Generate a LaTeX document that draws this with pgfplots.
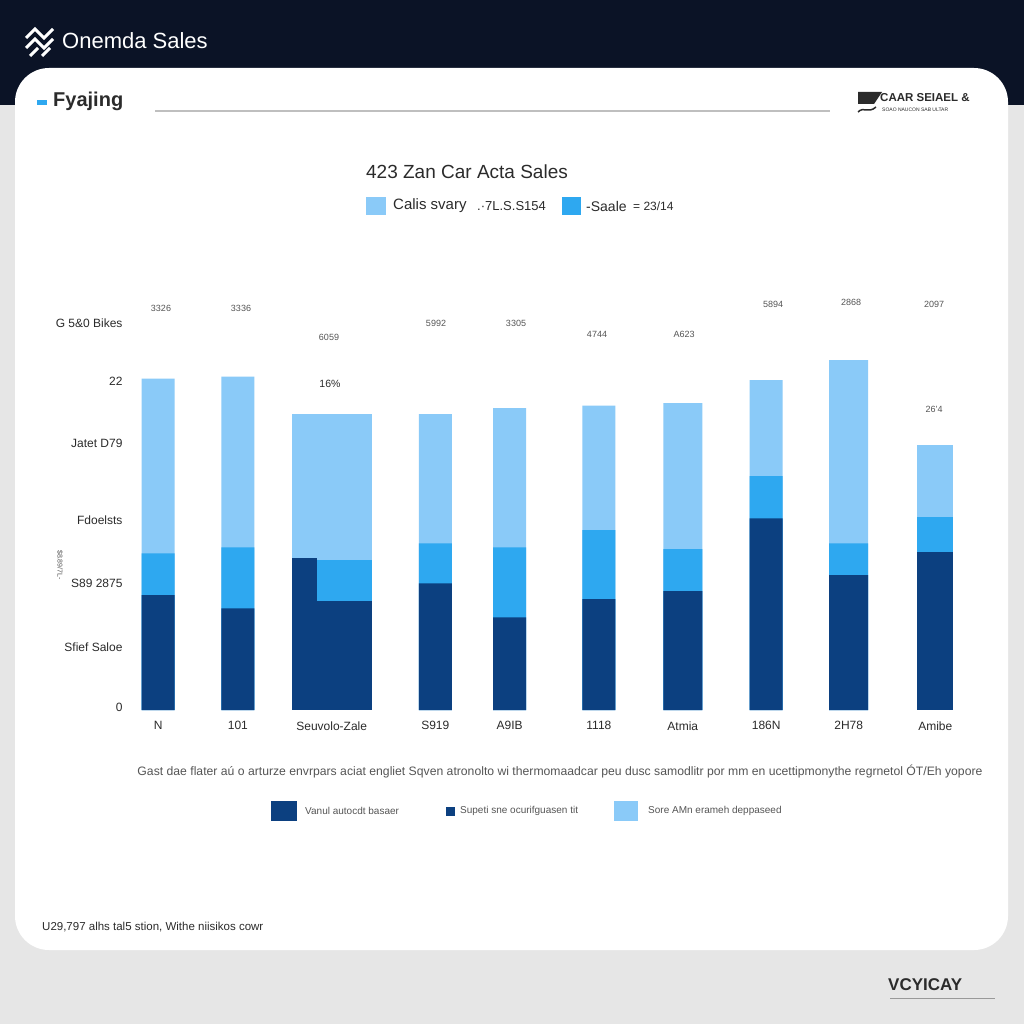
\documentclass[border=0pt]{standalone}
\usepackage{pgfplots}
\pgfplotsset{compat=1.18}
\usepackage{graphicx}
\usepackage{fontspec}
\setmainfont{Liberation Sans}

\definecolor{navy}{HTML}{0B1326}
\definecolor{bgray}{HTML}{E6E6E6}
\definecolor{dkbar}{HTML}{0C4080}
\definecolor{mdbar}{HTML}{2EA8F0}
\definecolor{ltbar}{HTML}{8ACAF8}
\definecolor{txt}{HTML}{2B2B2B}
\definecolor{soft}{HTML}{555555}

\newcommand{\fs}[1]{\fontsize{#1}{#1}\selectfont}

\begin{document}
\begin{tikzpicture}
% page furniture, in picture pixels (y down)
\begin{scope}[x=1pt,y=-1pt]
  \fill[bgray] (0,0) rectangle (1024,1024);
  \fill[navy] (0,0) rectangle (1024,105);
  \fill[white, rounded corners=34pt] (15,68) rectangle (1008,950);

  % header
  \draw[white, line width=3pt, line join=miter]
    (26,38)--(35,29)--(44,38)--(53,29) (26,48)--(35,39)--(44,48)--(53,39)
    (30,56)--(38,48) (42,56)--(50,48);
  \node[anchor=west, text=white, inner sep=0pt] at (62,41) {\fs{22}Onemda Sales};

  \fill[mdbar] (37,100) rectangle (47,105);
  \node[anchor=west, text=txt, inner sep=0pt] at (53,101) {\fs{20}\bfseries Fyajing};
  \draw[black!25, line width=1.2pt] (155,111) -- (830,111);

  \fill[txt] (858,92) -- (882,92) -- (874,104) -- (858,104) -- cycle;
  \draw[txt, line width=1.5pt] (858,112) .. controls (864,106) and (868,114) .. (876,107);
  \node[anchor=west, text=txt, inner sep=0pt] at (880,98) {\fs{11.5}\bfseries CAAR SEIAEL \&};
  \node[anchor=west, text=txt, inner sep=0pt] at (882,110) {\fs{5}SOAO NAUCON SAB ULTAR};

  % title and top legend
  \node[text=txt, inner sep=0pt] at (467,172) {\fs{19}423 Zan Car Acta Sales};
  \fill[ltbar] (366,197) rectangle (386,215);
  \node[anchor=west, text=txt, inner sep=0pt] at (393,206) {\fs{15}Calis svary};
  \node[anchor=west, text=txt, inner sep=0pt] at (477,206) {\fs{13}.·7L.S.S154};
  \fill[mdbar] (562,197) rectangle (581,215);
  \node[anchor=west, text=txt, inner sep=0pt] at (586,206) {\fs{14}-Saale};
  \node[anchor=west, text=txt, inner sep=0pt] at (633,206) {\fs{12}= 23/14};

  % value labels
  \foreach \x/\y/\t in {161/308/3326, 241/308/3336, 329/337/6059, 436/323/5992,
      516/323/3305, 597/334/4744, 684/334/A623, 773/304/5894, 851/302/2868,
      934/304/2097, 934/409/26'4}
    \node[text=soft, inner sep=0pt] at (\x,\y) {\fs{9}\t};
  \node[text=txt, inner sep=0pt] at (330,384) {\fs{10.5}16\%};

  % rotated axis label
  \node[text=soft, inner sep=0pt, rotate=-90] at (60,565) {\fs{7}\$8.89/7L-};

  % caption and bottom legend
  \node[text=soft, inner sep=0pt] at (560,771) {\resizebox{845pt}{!}{\fs{11}Gast dae flater aú o arturze envrpars aciat engliet Sqven atronolto wi thermomaadcar peu dusc samodlitr por mm en ucettipmonythe regrnetol ÓT/Eh yopore}};
  \fill[dkbar] (271,801) rectangle (297,821);
  \node[anchor=west, text=soft, inner sep=0pt] at (305,811) {\fs{10}Vanul autocdt basaer};
  \fill[dkbar] (446,807) rectangle (455,816);
  \node[anchor=west, text=soft, inner sep=0pt] at (460,811) {\fs{10}Supeti sne ocurifguasen tit};
  \fill[ltbar] (614,801) rectangle (638,821);
  \node[anchor=west, text=soft, inner sep=0pt] at (648,811) {\fs{10}Sore AMn erameh deppaseed};

  % footer
  \node[anchor=west, text=txt, inner sep=0pt] at (42,927) {\fs{11.5}U29,797 alhs tal5 stion, Withe niisikos cowr};
  \node[anchor=west, text=txt, inner sep=0pt] at (888,985) {\fs{17}\bfseries VCYICAY};
  \draw[black!40, line width=1pt] (890,998) -- (995,998);
\end{scope}

\begin{axis}[
    at={(126pt,-710pt)}, anchor=south west,
    scale only axis, width=854pt, height=420pt,
    xmin=126, xmax=980, ymin=0, ymax=420,
    axis line style={draw=none}, tick style={draw=none},
    clip=false,
    xtick={158.2,237.9,331.7,435.3,509.7,598.9,682.8,766.2,848.7,935.3},
    xticklabels={N,101,Seuvolo-Zale,S919,A9IB,1118,Atmia,186N,2H78,Amibe},
    xticklabel style={font=\fs{12}, text=txt, yshift=-8pt},
    ytick={3,63,127,190,267,329,387},
    yticklabels={0\hspace{13pt},Sfief Saloe,S89 2875,Fdoelsts,Jatet D79,22\hspace{8pt},G 5\&0 Bikes},
    yticklabel style={font=\fs{12}, text=txt},
]
% light = total height, mid = dark + mid, dark = bottom part (pixels above the baseline)
\addplot[ybar, bar shift=0pt, bar width=33, fill=ltbar, draw=none] coordinates
  {(158.2,331.3)(237.9,333.3)(435.3,296)(509.7,302)(598.9,304.3)(766.2,330)};
\addplot[ybar, bar shift=0pt, bar width=39, fill=ltbar, draw=none] coordinates
  {(682.8,307)(848.7,350)};
\addplot[ybar, bar shift=0pt, bar width=36, fill=ltbar, draw=none] coordinates
  {(935.3,264.7)};
\addplot[ybar, bar shift=0pt, bar width=80, fill=ltbar, draw=none] coordinates
  {(331.7,296)};

\addplot[ybar, bar shift=0pt, bar width=33, fill=mdbar, draw=none] coordinates
  {(158.2,156.7)(237.9,162.7)(435.3,166.7)(509.7,162.7)(598.9,180)(766.2,234)};
\addplot[ybar, bar shift=0pt, bar width=39, fill=mdbar, draw=none] coordinates
  {(682.8,161)(848.7,166.7)};
\addplot[ybar, bar shift=0pt, bar width=36, fill=mdbar, draw=none] coordinates
  {(935.3,192.7)};
\addplot[ybar, bar shift=0pt, bar width=80, fill=mdbar, draw=none] coordinates
  {(331.7,150)};

\addplot[ybar, bar shift=0pt, bar width=33, fill=dkbar, draw=none] coordinates
  {(158.2,115)(237.9,101.7)(435.3,126.7)(509.7,92.7)(598.9,111)(766.2,191.7)};
\addplot[ybar, bar shift=0pt, bar width=39, fill=dkbar, draw=none] coordinates
  {(682.8,119)(848.7,135)};
\addplot[ybar, bar shift=0pt, bar width=36, fill=dkbar, draw=none] coordinates
  {(935.3,158)};
\addplot[ybar, bar shift=0pt, bar width=25.6, fill=dkbar, draw=none] coordinates
  {(304.5,151.7)};
\addplot[ybar, bar shift=0pt, bar width=54.4, fill=dkbar, draw=none] coordinates
  {(344.5,109.3)};
\end{axis}
\end{tikzpicture}
\end{document}
